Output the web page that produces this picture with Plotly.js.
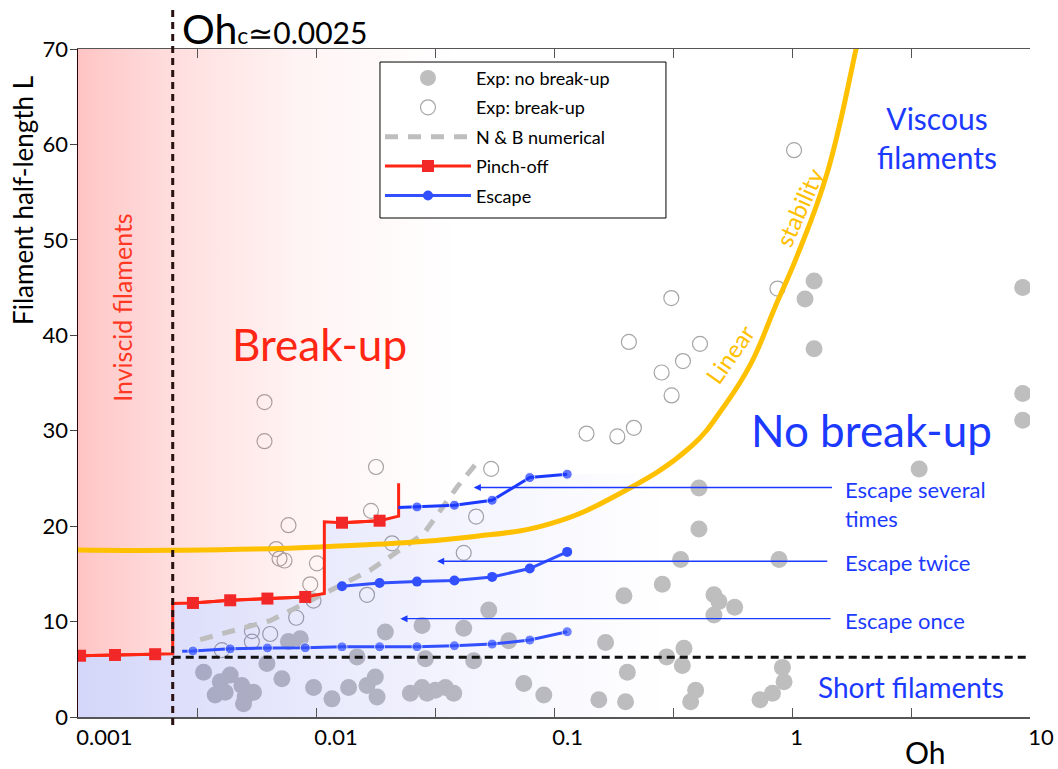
<!DOCTYPE html>
<html><head><meta charset="utf-8">
<script src="https://cdn.plot.ly/plotly-3.0.1.min.js"></script>
<style>html,body{margin:0;padding:0;background:#fff}#chart{width:1058px;height:769px}</style>
</head><body><div id="chart"></div>
<script>
// ---------------- data ----------------
const xTickVals = [0.001, 0.0031623, 0.01, 0.031623, 0.1, 0.31623, 1, 3.1623, 10];
const xTickText = ['0.001', '', '0.01', '', '0.1', '', '1', '', '10'];
const yTickVals = [0, 10, 20, 30, 40, 50, 60, 70];
const yTickText = ['0', '10', '20', '30', '40', '50', '60', '70'];

const OH_C = 0.0025;      // critical Ohnesorge number
const L_SHORT = 6.26;     // short filament limit
const OH_MAX = 10;

// Experiments: no break-up (filled)
const noBreakOh = [0.00337,0.00396,0.00436,0.00377,0.00415,0.00488,0.00504,0.00546,0.00622,0.00719,
  0.00766,0.00859,0.00977,0.01167,0.01371,0.01638,0.01775,0.01805,0.01956,0.01487,
  0.02492,0.0279,0.02929,0.03174,0.03497,0.0379,0.0279,0.02881,0.04175,0.04599,
  0.05319,0.06454,0.07464,0.0906,9.317,3.422,0.4064,0.4064,0.3404,0.8822,
  0.2852,0.1967,0.4699,0.4933,0.5743,0.4699,0.1647,0.3516,0.2973,0.3461,
  0.2033,0.9117,0.9261,0.8279,0.7338,0.3937,0.3751,0.1543,0.1998,1.238,
  1.134,9.317,1.238,9.317,0.00496];
const noBreakL = [4.7,3.7,4.4,2.3,2.6,3.3,2.1,2.6,5.6,4.0,
  7.9,8.2,3.1,1.9,3.1,3.3,4.2,2.1,8.9,6.3,
  2.5,3.1,2.5,2.8,3.1,2.5,9.6,6.1,9.3,5.9,
  11.2,8.0,3.5,2.3,31.1,26.0,24.0,19.7,16.5,16.5,
  13.9,12.7,12.8,12.1,11.5,10.7,7.8,7.2,6.3,5.4,
  4.7,5.2,3.7,2.5,1.8,2.8,1.6,1.8,1.6,45.7,
  43.8,45.0,38.6,33.9,1.4];

// Experiments: break-up (open)
const breakOh = [0.006076,0.006076,0.01787,0.05444,0.137,0.1845,0.2166,0.007664,0.01702,0.04707,
  0.04175,0.02087,0.006805,0.007026,0.007373,0.01009,0.009459,0.01638,0.008259,0.005378,
  0.00642,0.005378,0.004022,0.3111,0.2064,0.4106,0.3482,0.2833,0.312,1.020,
  0.8686,0.009766];
const breakL = [33.0,28.9,26.2,26.0,29.7,29.4,30.3,20.1,21.6,21.0,
  17.2,18.2,17.6,16.6,16.4,16.1,13.9,12.8,10.4,9.0,
  8.7,7.9,7.0,43.9,39.3,39.1,37.3,36.1,33.7,59.4,
  44.9,12.2];

// N & B numerical
const nbOh = [0.003259, 0.00642, 0.01076, 0.01691, 0.02835, 0.03916, 0.04909];
const nbL  = [8.1, 10.1, 12.9, 15.4, 19.2, 24.1, 27.1];

// Linear stability
const linOh = [0.001, 0.0025, 0.0104, 0.0445, 0.0967, 0.19, 0.375, 0.516, 0.671, 0.85, 1.054, 1.409, 1.854, 1.95];
const linL  = [17.5, 17.47, 17.82, 18.87, 20.27, 23.45, 28.3, 32.49, 37.0, 43.0, 48.4, 57.1, 69.9, 72.5];

// Pinch-off boundary (step line) and its computed points
const redStepOh = [0.001, 0.00102, 0.00143, 0.00211, 0.0025, 0.0025, 0.00304, 0.00436, 0.00625, 0.00901, 0.01084, 0.01084, 0.01286, 0.0185, 0.02224, 0.02224];
const redStepL  = [6.4, 6.42, 6.5, 6.58, 6.62, 11.9, 11.95, 12.23, 12.41, 12.58, 12.94, 20.45, 20.36, 20.57, 21.05, 24.5];
const pinchOh = [0.00102, 0.00143, 0.00211, null, 0.00304, 0.00436, 0.00625, 0.00901, null, 0.01286, 0.0185];
const pinchL  = [6.42, 6.5, 6.58, null, 11.95, 12.23, 12.41, 12.58, null, 20.36, 20.57];

// Escape curves
const escOnceOh = [0.00274, 0.00304, 0.00436, 0.00625, 0.00901, 0.01286, 0.0185, 0.02657, 0.03815, 0.05497, 0.0791, 0.1136];
const escOnceL  = [6.9, 6.92, 7.14, 7.24, 7.25, 7.35, 7.36, 7.37, 7.47, 7.64, 8.06, 8.93];
const escTwiceOh = [0.01286, 0.0185, 0.02657, 0.03815, 0.05497, 0.0791, 0.1136];
const escTwiceL  = [13.7, 14.05, 14.19, 14.3, 14.68, 15.56, 17.3];
const escSevOh = [0.02217, 0.02657, 0.03815, 0.05497, 0.0791, 0.1136];
const escSevL  = [21.95, 22.01, 22.19, 22.71, 25.09, 25.44];

// Arrows: head Oh, tail Oh, L
const arrowHeadOh = [0.046, 0.03226, 0.02261];
const arrowTailOh = [1.494, 1.427, 1.475];
const arrowL = [24.05, 16.32, 10.3];

// ---------------- styles ----------------
const FONT = "Lato, 'Noto Sans', sans-serif";
const BLUE = 'rgb(28,58,255)';
const BLUE_L = 'rgb(50,80,255)';
const RED = 'rgb(255,38,20)';
const YEL = 'rgb(255,192,0)';

// background regions built from boundary arrays
const PINK_END = 0.04;
const boundOh = redStepOh.concat(escSevOh), boundL = redStepL.concat(escSevL);
const pinkOh = [0.001, PINK_END, PINK_END], pinkL = [70, 70, 22.2];
for (let i = boundOh.length - 1; i >= 0; i--) {
  if (boundOh[i] < PINK_END) { pinkOh.push(boundOh[i]); pinkL.push(boundL[i]); }
}
const blueOh = [0.001].concat(boundOh, [0.3, 0.3]);
const blueL = [0].concat(boundL, [25.5, 0]);

const traces = [
  {type:'scatter', mode:'markers', name:'Exp: no break-up', legendgroup:'g1', x:noBreakOh, y:noBreakL,
   marker:{symbol:'circle', size:17, color:'rgb(190,190,190)'}, hoverinfo:'skip'},
  {type:'scatter', mode:'markers', name:'Exp: break-up', legendgroup:'g2', x:breakOh, y:breakL,
   marker:{symbol:'circle-open', size:15, color:'rgb(165,165,165)', line:{width:1.2}}, hoverinfo:'skip'},
  {type:'scatter', mode:'none', x:pinkOh, y:pinkL, fill:'toself', showlegend:false, hoverinfo:'skip',
   fillgradient:{type:'horizontal', colorscale:[[0,'rgba(255,60,60,0.3)'],[0.25,'rgba(255,70,70,0.18)'],[0.6,'rgba(255,80,80,0.06)'],[1,'rgba(255,90,90,0)']]}},
  {type:'scatter', mode:'none', x:blueOh, y:blueL, fill:'toself', showlegend:false, hoverinfo:'skip',
   fillgradient:{type:'horizontal', colorscale:[[0,'rgba(60,70,230,0.22)'],[0.3,'rgba(60,70,230,0.14)'],[0.65,'rgba(60,70,230,0.06)'],[1,'rgba(60,70,230,0)']]}},
  {type:'scatter', mode:'lines', name:'N &amp; B numerical', legendgroup:'g3', x:nbOh, y:nbL,
   line:{color:'rgb(190,190,190)', width:5, dash:'13px,10px'}, hoverinfo:'skip'},
  {type:'scatter', mode:'lines', x:linOh, y:linL, showlegend:false,
   line:{color:YEL, width:5, shape:'spline', smoothing:1.2}, hoverinfo:'skip'},
  {type:'scatter', mode:'lines', x:redStepOh, y:redStepL, showlegend:false,
   line:{color:RED, width:3}, hoverinfo:'skip'},
  {type:'scatter', mode:'lines+markers', name:'Pinch-off', legendgroup:'g4', x:pinchOh, y:pinchL, connectgaps:false,
   line:{color:RED, width:3}, marker:{symbol:'square', size:12, color:'rgb(242,40,40)'}, hoverinfo:'skip'},
  {type:'scatter', mode:'lines+markers', name:'Escape', legendgroup:'g5', x:escTwiceOh, y:escTwiceL,
   line:{color:BLUE_L, width:3}, marker:{symbol:'circle', size:10, color:BLUE_L}, hoverinfo:'skip'},
  {type:'scatter', mode:'lines+markers', x:escOnceOh, y:escOnceL, showlegend:false, legendgroup:'g5',
   line:{color:BLUE_L, width:3}, marker:{symbol:'circle', size:escOnceOh.map((v,i)=> i===0?0:10), color:BLUE_L}, hoverinfo:'skip'},
  {type:'scatter', mode:'lines+markers', x:escSevOh, y:escSevL, showlegend:false, legendgroup:'g5',
   line:{color:BLUE, width:3}, marker:{symbol:'circle', size:escSevOh.map((v,i)=> i===0?0:10), color:BLUE}, hoverinfo:'skip'}
];

function txt(x, y, text, size, color, extra) {
  return Object.assign({xref:'paper', yref:'paper', x:x, y:y, xanchor:'center', yanchor:'middle',
    text:text, showarrow:false, font:{size:size, color:color}}, extra || {});
}
const ann = [
  txt(0.0462, 0.614, 'Inviscid filaments', 25, 'rgb(255,55,35)', {textangle:-90}),
  txt(0.2539, 0.558, 'Break-up', 44, RED),
  txt(0.9018, 0.867, 'Viscous<br>filaments', 30, BLUE),
  txt(0.833, 0.4296, 'No break-up', 44, BLUE),
  txt(0.8035, 0.319, 'Escape several<br>times', 22, BLUE, {xanchor:'left', align:'left'}),
  txt(0.8035, 0.231, 'Escape twice', 22, BLUE, {xanchor:'left'}),
  txt(0.8035, 0.145, 'Escape once', 22, BLUE, {xanchor:'left'}),
  txt(0.875, 0.0454, 'Short filaments', 28, BLUE),
  txt(0.684, 0.5434, 'Linear', 24, YEL, {textangle:-55}),
  txt(0.7574, 0.7627, 'stability', 24, YEL, {textangle:-66}),
  txt(0.8892, -0.0524, 'Oh', 30, '#000'),
  txt(-0.0578, 0.774, 'Filament half-length L', 26, '#000', {textangle:-90}),
  txt(0.107, 1.031, "<span style='font-size:41px'>Oh</span><span style='font-size:23px'>c</span>≃0.0025", 30, '#000', {xanchor:'left'})
];
for (let i = 0; i < arrowL.length; i++) {
  ann.push({xref:'x', yref:'y', axref:'x', ayref:'y',
    x:Math.log10(arrowHeadOh[i]), y:arrowL[i], ax:Math.log10(arrowTailOh[i]), ay:arrowL[i],
    text:'', showarrow:true, arrowhead:2, arrowsize:1.1, arrowwidth:1.3, arrowcolor:BLUE});
}

const layout = {
  width:1058, height:769,
  margin:{l:78, r:28, t:49, b:52},
  paper_bgcolor:'#fff', plot_bgcolor:'#fff',
  font:{family:FONT, size:22, color:'#000'},
  showlegend:true,
  legend:{x:0.3172, y:0.984, xanchor:'left', yanchor:'top', bgcolor:'rgba(0,0,0,0)', borderwidth:0,
          font:{size:18, color:'#000'}, itemwidth:86, traceorder:'grouped', tracegroupgap:3},
  xaxis:{type:'log', range:[-3, 1], tickvals:xTickVals, ticktext:xTickText, ticks:'inside', ticklen:9,
         tickcolor:'#555', showline:true, linecolor:'#555', linewidth:1.5, mirror:'ticks', showgrid:false,
         zeroline:false, ticklabelposition:'outside right', ticklabelshift:-3, tickfont:{size:22}},
  yaxis:{range:[0, 70], tickvals:yTickVals, ticktext:yTickText, ticks:'outside', ticklen:7, tickcolor:'#444',
         showline:true, linecolor:'#2a0808', linewidth:1.5, showgrid:false, zeroline:false, tickfont:{size:22},
         ticklabelstandoff:-3},
  yaxis2:{overlaying:'y', side:'right', anchor:'x', range:[0, 70], tickvals:yTickVals, ticks:'inside', ticklen:9,
          tickcolor:'#555', showticklabels:false, showline:true, linecolor:'#777', linewidth:1.5, showgrid:false, zeroline:false},
  shapes:[
    {type:'line', xref:'x', yref:'paper', x0:OH_C, x1:OH_C, y0:-0.012, y1:1.066,
     line:{color:'#2a1212', width:3, dash:'7px,5px'}},
    {type:'line', xref:'x', yref:'y', x0:OH_C, x1:OH_MAX, y0:L_SHORT, y1:L_SHORT,
     line:{color:'#111', width:3, dash:'8px,5px'}},
    // legend frame
    {type:'rect', xref:'paper', yref:'paper', x0:0.3172, x1:0.6176, y0:0.747, y1:0.9805,
     fillcolor:'#fff', line:{color:'#000', width:1}, layer:'above'}
  ],
  annotations:ann,
  hovermode:false
};

Plotly.newPlot('chart', traces, layout, {staticPlot:true, displayModeBar:false});
</script></body></html>
